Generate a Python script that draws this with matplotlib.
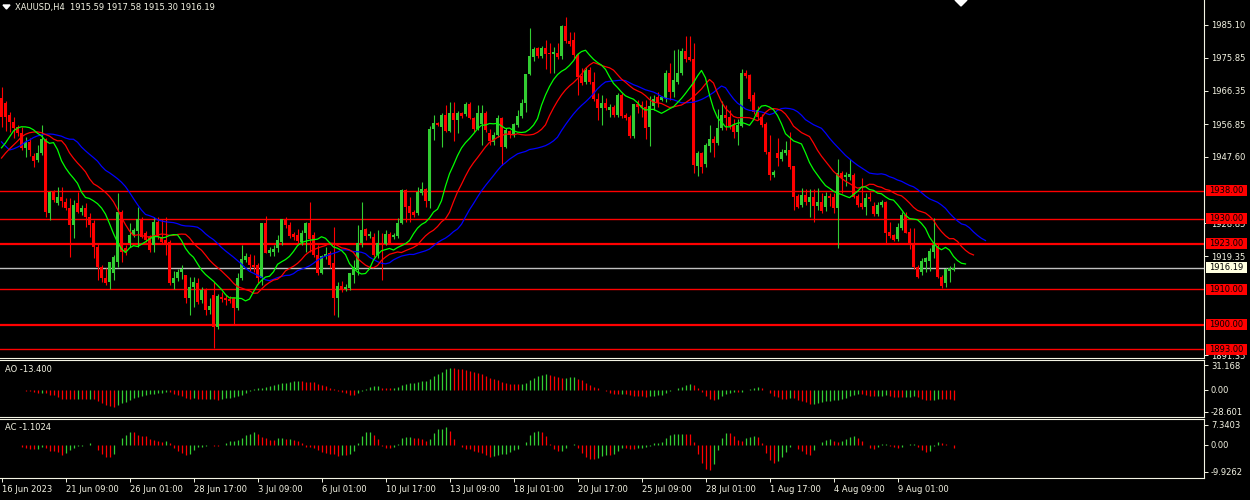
import numpy as np
import pandas as pd
import matplotlib
matplotlib.use("Agg")
import matplotlib.pyplot as plt
from matplotlib.patches import Rectangle, Polygon
from matplotlib.transforms import blended_transform_factory

# XAUUSD H4 candles (open, high, low, close)
opens = [
    1964.4, 1962.9, 1959.5, 1957.5, 1956.1, 1954.4, 1950.2, 1951.9, 1947.9, 1946.7,
    1948.7, 1952.7, 1931.7, 1937.7, 1934.5, 1936.2, 1934.8, 1933.1, 1928.3, 1934.5,
    1932.0, 1933.1, 1930.6, 1928.8, 1922.0, 1916.3, 1913.2, 1912.1, 1914.6, 1917.8,
    1932.0, 1921.7, 1923.2, 1925.4, 1926.6, 1929.7, 1926.0, 1924.9, 1922.6, 1929.1,
    1924.9, 1924.0, 1923.4, 1911.8, 1913.2, 1914.9, 1914.1, 1907.5, 1910.7, 1911.8,
    1907.0, 1909.8, 1904.1, 1908.4, 1899.3, 1907.8, 1907.5, 1907.3, 1907.5, 1904.7,
    1913.2, 1918.3, 1919.2, 1916.9, 1916.9, 1913.2, 1928.8, 1920.3, 1920.6, 1921.7,
    1923.4, 1930.0, 1928.3, 1925.7, 1925.4, 1923.4, 1926.0, 1928.8, 1925.4, 1919.8,
    1914.6, 1919.5, 1920.2, 1917.5, 1907.5, 1910.9, 1910.1, 1910.4, 1914.1, 1915.5,
    1923.2, 1927.1, 1925.2, 1925.0, 1919.8, 1923.2, 1922.9, 1925.7, 1924.9, 1925.2,
    1928.8, 1938.2, 1933.7, 1932.0, 1931.7, 1937.4, 1938.5, 1935.1, 1955.6, 1957.3,
    1956.1, 1959.5, 1955.0, 1960.1, 1958.1, 1960.1, 1959.8, 1962.7, 1958.7, 1955.6,
    1957.0, 1960.1, 1954.4, 1951.9, 1953.8, 1958.7, 1950.4, 1955.0, 1953.8, 1956.7,
    1959.2, 1962.9, 1971.2, 1976.0, 1978.6, 1976.3, 1978.6, 1977.2, 1976.9, 1977.2,
    1976.3, 1984.8, 1980.5, 1980.8, 1976.6, 1970.6, 1968.9, 1972.3, 1968.9, 1964.1,
    1961.5, 1962.9, 1960.9, 1961.8, 1959.5, 1965.2, 1959.5, 1959.0, 1953.6, 1962.7,
    1962.4, 1961.8, 1956.1, 1962.1, 1964.7, 1963.8, 1964.4, 1971.5, 1966.1, 1968.9,
    1971.5, 1977.7, 1976.0, 1975.4, 1945.0, 1948.7, 1945.6, 1950.7, 1952.7, 1951.6,
    1955.8, 1959.5, 1959.0, 1956.7, 1954.7, 1956.4, 1971.5, 1970.9, 1965.2, 1960.9,
    1959.0, 1957.0, 1949.0, 1942.5, 1948.7, 1947.0, 1948.7, 1949.6, 1945.0, 1936.5,
    1934.0, 1936.8, 1934.8, 1936.2, 1933.7, 1934.8, 1933.4, 1936.5, 1936.2, 1933.1,
    1943.1, 1941.9, 1941.9, 1942.5, 1936.5, 1934.5, 1933.4, 1936.2, 1933.7, 1931.4,
    1933.9, 1934.8, 1926.3, 1925.4, 1924.3, 1927.4, 1931.1, 1926.3, 1922.9, 1916.3,
    1914.9, 1917.8, 1918.1, 1920.6, 1922.3, 1913.5, 1911.8, 1915.2, 1915.59,
]
highs = [
    1967.5, 1963.5, 1960.4, 1959.0, 1956.7, 1956.1, 1953.3, 1953.0, 1948.7, 1951.0,
    1956.7, 1953.0, 1938.0, 1938.2, 1939.1, 1939.1, 1936.0, 1936.0, 1935.4, 1937.7,
    1934.0, 1934.5, 1931.7, 1929.7, 1923.2, 1916.9, 1916.1, 1917.8, 1919.8, 1937.4,
    1932.5, 1922.5, 1928.8, 1927.5, 1933.4, 1930.6, 1926.6, 1925.4, 1930.6, 1930.6,
    1930.0, 1930.6, 1924.0, 1915.2, 1915.8, 1917.0, 1914.1, 1913.5, 1913.5, 1913.2,
    1910.7, 1910.4, 1907.6, 1912.1, 1908.7, 1909.2, 1908.5, 1908.1, 1907.8, 1914.6,
    1922.6, 1920.3, 1920.0, 1919.8, 1917.5, 1928.8, 1930.8, 1922.0, 1922.6, 1925.4,
    1930.0, 1930.6, 1929.0, 1926.3, 1927.2, 1926.9, 1929.1, 1934.8, 1926.3, 1922.6,
    1919.8, 1922.0, 1921.0, 1927.7, 1912.1, 1912.4, 1911.5, 1914.6, 1918.3, 1928.3,
    1934.8, 1927.5, 1926.5, 1926.0, 1926.9, 1926.0, 1926.9, 1926.3, 1926.0, 1930.3,
    1938.5, 1938.5, 1936.2, 1932.5, 1939.1, 1940.5, 1938.8, 1956.4, 1959.5, 1957.5,
    1960.1, 1962.4, 1963.2, 1963.2, 1960.7, 1960.4, 1963.2, 1963.2, 1959.0, 1962.4,
    1962.4, 1960.7, 1955.6, 1954.7, 1959.5, 1959.0, 1955.8, 1955.3, 1957.3, 1960.9,
    1964.1, 1971.2, 1984.2, 1978.8, 1978.8, 1979.1, 1980.8, 1980.0, 1978.8, 1980.0,
    1985.1, 1987.4, 1983.0, 1983.1, 1977.2, 1973.0, 1973.2, 1973.2, 1971.8, 1965.8,
    1965.2, 1964.4, 1962.7, 1962.4, 1965.8, 1965.8, 1960.0, 1959.5, 1962.7, 1963.8,
    1963.5, 1963.8, 1964.9, 1965.2, 1966.1, 1965.0, 1972.3, 1974.3, 1978.0, 1978.3,
    1978.6, 1982.0, 1982.0, 1980.0, 1949.3, 1949.0, 1951.6, 1956.7, 1953.6, 1961.2,
    1963.5, 1962.4, 1960.9, 1958.4, 1958.4, 1972.6, 1972.3, 1971.2, 1966.0, 1962.0,
    1959.8, 1957.5, 1953.8, 1944.0, 1953.0, 1949.9, 1952.2, 1954.7, 1945.0, 1937.0,
    1938.8, 1938.5, 1938.5, 1938.5, 1938.8, 1937.4, 1937.7, 1937.4, 1937.4, 1947.0,
    1943.6, 1943.3, 1947.0, 1943.1, 1937.0, 1941.6, 1937.4, 1937.7, 1934.8, 1934.8,
    1935.4, 1935.0, 1929.1, 1925.7, 1928.8, 1932.0, 1932.0, 1927.5, 1927.5, 1916.9,
    1918.9, 1919.2, 1921.7, 1930.3, 1922.9, 1914.1, 1916.1, 1916.6, 1917.58,
]
lows = [
    1956.1, 1955.0, 1954.7, 1953.0, 1953.5, 1949.6, 1947.6, 1948.0, 1944.8, 1946.2,
    1948.2, 1930.6, 1929.7, 1934.8, 1933.9, 1933.4, 1932.5, 1919.2, 1924.6, 1931.7,
    1931.0, 1927.7, 1924.9, 1918.9, 1912.7, 1912.1, 1911.2, 1910.1, 1912.7, 1916.3,
    1917.8, 1919.8, 1922.0, 1924.9, 1922.0, 1924.6, 1923.4, 1920.6, 1920.6, 1924.3,
    1922.9, 1919.8, 1911.2, 1910.1, 1912.4, 1913.0, 1906.2, 1902.7, 1905.0, 1905.8,
    1906.0, 1902.7, 1903.0, 1893.3, 1898.7, 1906.4, 1905.5, 1906.0, 1900.2, 1904.1,
    1912.7, 1917.8, 1915.2, 1914.9, 1911.8, 1911.2, 1920.3, 1919.5, 1919.5, 1920.6,
    1922.6, 1927.5, 1924.6, 1924.0, 1923.0, 1922.6, 1920.6, 1920.6, 1919.2, 1914.1,
    1914.3, 1918.5, 1916.0, 1902.7, 1902.1, 1909.2, 1909.5, 1909.8, 1911.8, 1914.1,
    1922.0, 1924.0, 1924.5, 1919.2, 1919.0, 1912.7, 1922.5, 1922.9, 1924.3, 1924.6,
    1928.5, 1929.1, 1929.1, 1930.6, 1931.1, 1936.8, 1933.4, 1933.1, 1952.4, 1956.4,
    1950.4, 1954.7, 1954.7, 1952.2, 1954.4, 1958.7, 1959.2, 1958.4, 1954.7, 1955.3,
    1951.0, 1954.7, 1951.0, 1951.0, 1953.3, 1945.3, 1950.1, 1953.0, 1953.3, 1956.1,
    1958.7, 1960.4, 1970.9, 1974.9, 1975.7, 1975.7, 1972.6, 1971.5, 1971.5, 1975.5,
    1975.4, 1980.0, 1979.0, 1975.7, 1965.2, 1968.0, 1968.3, 1968.3, 1963.5, 1958.1,
    1956.7, 1961.0, 1959.0, 1959.0, 1959.0, 1958.7, 1958.1, 1953.0, 1953.0, 1960.1,
    1959.0, 1952.7, 1950.7, 1960.9, 1961.8, 1963.5, 1963.2, 1963.8, 1964.7, 1968.3,
    1970.9, 1974.6, 1974.9, 1943.1, 1942.2, 1943.1, 1944.8, 1949.0, 1947.6, 1951.0,
    1955.2, 1955.3, 1955.6, 1953.0, 1951.0, 1956.1, 1970.0, 1963.5, 1959.8, 1958.0,
    1956.1, 1948.4, 1941.1, 1942.0, 1945.0, 1946.4, 1948.1, 1944.2, 1932.5, 1933.0,
    1933.4, 1934.0, 1930.6, 1929.1, 1932.5, 1931.7, 1932.3, 1933.7, 1931.7, 1921.7,
    1937.4, 1939.4, 1941.0, 1935.9, 1933.4, 1932.8, 1931.1, 1935.0, 1930.8, 1930.8,
    1933.4, 1923.2, 1924.6, 1923.7, 1923.7, 1926.9, 1926.0, 1921.5, 1915.8, 1913.2,
    1914.1, 1914.9, 1915.2, 1918.9, 1913.2, 1910.4, 1910.7, 1912.1, 1915.30,
]
closes = [
    1959.0, 1959.0, 1957.5, 1955.8, 1954.4, 1950.2, 1951.9, 1949.6, 1946.5, 1948.7,
    1952.7, 1932.0, 1937.7, 1935.4, 1936.2, 1935.1, 1933.1, 1928.3, 1934.0, 1932.0,
    1933.1, 1930.6, 1928.3, 1922.0, 1916.3, 1913.2, 1911.8, 1917.8, 1919.2, 1932.0,
    1920.6, 1920.6, 1925.4, 1926.9, 1930.0, 1924.9, 1924.0, 1921.2, 1929.1, 1924.9,
    1923.4, 1923.2, 1911.8, 1913.2, 1914.9, 1915.7, 1907.5, 1910.7, 1912.1, 1906.4,
    1909.8, 1904.1, 1905.3, 1899.3, 1908.1, 1907.2, 1907.0, 1906.6, 1904.7, 1913.2,
    1918.6, 1919.5, 1916.9, 1916.3, 1913.2, 1928.8, 1920.3, 1921.2, 1921.5, 1924.0,
    1930.0, 1928.3, 1925.2, 1924.9, 1923.7, 1926.0, 1928.8, 1924.3, 1919.8, 1914.6,
    1919.5, 1920.0, 1916.9, 1907.5, 1910.9, 1909.8, 1910.7, 1914.6, 1916.3, 1923.2,
    1926.9, 1925.2, 1925.7, 1919.8, 1923.2, 1922.9, 1925.7, 1923.2, 1925.4, 1928.8,
    1938.2, 1933.4, 1931.7, 1931.1, 1937.7, 1938.5, 1935.1, 1955.6, 1957.3, 1956.7,
    1959.5, 1955.0, 1960.1, 1958.1, 1960.1, 1959.2, 1962.7, 1958.7, 1955.6, 1960.1,
    1960.1, 1955.3, 1952.2, 1953.8, 1958.7, 1950.4, 1955.3, 1953.8, 1957.0, 1959.2,
    1962.9, 1971.2, 1976.3, 1978.3, 1976.3, 1978.6, 1976.9, 1976.9, 1977.5, 1976.0,
    1984.8, 1980.5, 1979.6, 1976.6, 1970.3, 1968.6, 1972.3, 1968.9, 1964.1, 1961.5,
    1962.9, 1961.5, 1961.8, 1959.5, 1965.2, 1959.2, 1958.7, 1953.6, 1962.7, 1961.8,
    1961.8, 1955.8, 1962.1, 1964.1, 1963.2, 1964.7, 1971.5, 1966.1, 1969.5, 1971.5,
    1977.7, 1975.4, 1975.2, 1945.3, 1948.7, 1944.8, 1951.0, 1952.7, 1951.6, 1955.8,
    1959.5, 1958.7, 1956.4, 1954.7, 1956.7, 1971.5, 1970.6, 1964.1, 1960.4, 1958.9,
    1956.7, 1949.0, 1942.5, 1943.3, 1947.3, 1949.0, 1949.6, 1944.8, 1936.2, 1933.4,
    1936.8, 1934.8, 1936.2, 1933.7, 1934.8, 1932.2, 1936.5, 1935.9, 1933.1, 1943.1,
    1941.6, 1942.5, 1942.8, 1936.2, 1934.0, 1933.4, 1935.9, 1935.6, 1931.4, 1933.9,
    1934.8, 1926.0, 1925.2, 1924.0, 1927.7, 1931.1, 1926.0, 1922.9, 1916.3, 1913.5,
    1918.0, 1918.9, 1920.9, 1922.6, 1913.5, 1910.9, 1915.8, 1916.1, 1916.19,
]

# alligator values already on screen left of where the shifted lines begin
jaw_head = [1951.9, 1950.7, 1949.6, 1949.9, 1950.4, 1951.0, 1951.9, 1952.4]
teeth_head = [1947.3, 1948.7, 1949.9, 1951.0, 1952.1]
lips_head = [1950.2, 1951.6, 1953.3]

levels = [1938.00, 1930.00, 1923.00, 1910.00, 1900.00, 1893.00]
level_lw = [1.0, 1.0, 1.6, 1.0, 1.6, 1.0]
price_ticks = [1985.10, 1975.85, 1966.35, 1956.85, 1947.60, 1928.85, 1919.35, 1891.35]
last_price = 1916.19

time_labels = ["16 Jun 2023", "21 Jun 09:00", "26 Jun 01:00", "28 Jun 17:00",
               "3 Jul 09:00", "6 Jul 01:00", "10 Jul 17:00", "13 Jul 09:00",
               "18 Jul 01:00", "20 Jul 17:00", "25 Jul 09:00", "28 Jul 01:00",
               "1 Aug 17:00", "4 Aug 09:00", "9 Aug 01:00"]
ao_ticks = [31.168, 0.0, -28.601]
ao_ticklabels = ["31.168", "0.00", "-28.601"]
ac_ticks = [7.3403, 0.0, -9.9262]
ac_ticklabels = ["7.3403", "0.00", "-9.9262"]
title = "XAUUSD,H4  1915.59 1917.58 1915.30 1916.19"
ao_title = "AO -13.400"
ac_title = "AC -1.1024"


def smma(values, n, seed):
    out = []
    s = seed
    for v in values:
        s = (s * (n - 1) + v) / n
        out.append(s)
    return out


o = np.array(opens)
h = np.array(highs)
l = np.array(lows)
c = np.array(closes)
x = np.arange(len(c))
median = (h + l) / 2

jaw = jaw_head + smma(median, 13, jaw_head[-1])
teeth = teeth_head + smma(median, 8, teeth_head[-1])
lips = lips_head + smma(median, 5, lips_head[-1])

med = pd.Series(median)
ao = med.rolling(5, min_periods=1).mean() - med.rolling(34, min_periods=1).mean()
ac = ao - ao.rolling(5, min_periods=1).mean()

GREEN = "#32cd32"
RED = "#ff0000"
FG = "#f4f4e4"
plt.rcParams["font.family"] = ["DejaVu Sans"]
FS = 6.0

W, H = 1250, 500
fig = plt.figure(figsize=(12.5, 5), dpi=100, facecolor="black")


def panel(top, bottom):
    a = fig.add_axes([0, 1 - bottom / H, 1204 / W, (bottom - top) / H])
    a.set_facecolor("black")
    a.spines["left"].set_visible(False)
    for s in ["top", "bottom", "right"]:
        a.spines[s].set_color(FG)
        a.spines[s].set_linewidth(0.8)
    a.set_xlim(-0.375, 300.625)
    a.yaxis.tick_right()
    a.tick_params(axis="y", colors=FG, labelcolor=FG, labelsize=FS, length=3, width=0.7, pad=2)
    a.tick_params(axis="x", bottom=False, labelbottom=False)
    return a


ax = panel(0, 358)
ax.spines["top"].set_visible(False)
ax.set_ylim(1890.5, 1992.2)
ax.set_yticks(price_ticks)
ax.set_yticklabels([f"{p:.2f}" for p in price_ticks])

# levels and bid line
for lv, lw in zip(levels, level_lw):
    ax.axhline(lv, color=RED, lw=lw, zorder=1)
ax.axhline(last_price, color="#c0c0c0", lw=1.0, zorder=1)

# candles
up = c >= o
cols = np.where(up, GREEN, RED)
ax.vlines(x, l, h, colors=cols, lw=0.8, zorder=3)
body_lo = np.minimum(o, c)
body_h = np.maximum(np.abs(c - o), 0.3)
ax.bar(x, body_h, bottom=body_lo, width=0.75, color=cols, linewidth=0, zorder=3)

# alligator
ax.plot(np.arange(len(jaw)), jaw, color="#0000ff", lw=0.9, zorder=4)
ax.plot(np.arange(len(teeth)), teeth, color="#ff0000", lw=0.9, zorder=4)
ax.plot(np.arange(len(lips)), lips, color="#00ff00", lw=0.9, zorder=4)

# price boxes on the scale
tr = blended_transform_factory(ax.transAxes, ax.transData)
bh = 11 * (1992.2 - 1890.5) / 358
for lv in levels + [last_price]:
    fc = "#ffffe0" if lv == last_price else RED
    ax.add_patch(Rectangle((1 + 2 / 1204, lv - bh / 2), 41 / 1204, bh, transform=tr,
                           facecolor=fc, edgecolor="none", clip_on=False, zorder=6))
    ax.text(1 + 22.5 / 1204, lv, f"{lv:.2f}", transform=tr, ha="center", va="center",
            fontsize=FS, color="black", clip_on=False, zorder=7)

fig.text(15 / W, 1 - 7.5 / H, title, color=FG, fontsize=FS, va="center", ha="left")
fig.add_artist(Polygon([(3 / W, 1 - 5 / H), (10 / W, 1 - 5 / H), (6.5 / W, 1 - 9 / H)],
                       closed=True, transform=fig.transFigure, color="white"))
fig.add_artist(Polygon([(955 / W, 1.0), (967 / W, 1.0), (961 / W, 1 - 6 / H)],
                       closed=True, transform=fig.transFigure, color="white"))

# Awesome Oscillator
ao_ax = panel(360, 417)
ao_ax.set_ylim(-35.2, 37.8)
ao_cols = np.where(ao.diff().fillna(0) > 0, GREEN, RED)
ao_ax.vlines(x, 0, ao.values, colors=ao_cols, lw=0.9)
ao_ax.set_yticks(ao_ticks)
ao_ax.set_yticklabels(ao_ticklabels)
ao_ax.text(5 / 1204, 1 - 9 / 57, ao_title, transform=ao_ax.transAxes, color=FG,
           fontsize=FS, va="center", ha="left")

# Accelerator Oscillator
ac_ax = panel(419, 478)
ac_ax.set_ylim(-12.13, 9.54)
ac_cols = np.where(ac.diff().fillna(0) > 0, GREEN, RED)
ac_ax.vlines(x, 0, ac.values, colors=ac_cols, lw=0.9)
ac_ax.set_yticks(ac_ticks)
ac_ax.set_yticklabels(ac_ticklabels)
ac_ax.text(5 / 1204, 1 - 9 / 59, ac_title, transform=ac_ax.transAxes, color=FG,
           fontsize=FS, va="center", ha="left")

ac_ax.tick_params(axis="x", bottom=True, labelbottom=True, colors=FG, labelcolor=FG,
                  labelsize=FS, length=3, width=0.7, pad=2)
ac_ax.set_xticks(np.arange(len(time_labels)) * 16)
ac_ax.set_xticklabels(time_labels)
for lbl in ac_ax.get_xticklabels():
    lbl.set_ha("left")

fig.savefig("out.png", dpi=100, facecolor="black")
